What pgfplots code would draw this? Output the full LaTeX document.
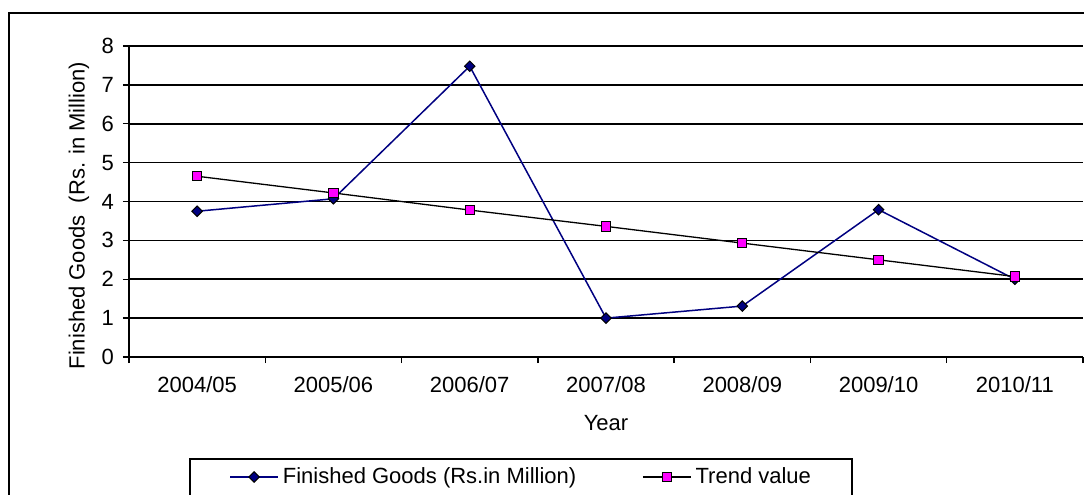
\documentclass[border=0pt]{standalone}
\usepackage{fontspec}
\setmainfont{Liberation Sans}
\usepackage{pgfplots}
\pgfplotsset{compat=1.18}
\definecolor{fgnavy}{RGB}{0,0,128}
\definecolor{trendpink}{RGB}{255,0,255}

\begin{document}
\begin{tikzpicture}[font=\fontsize{11}{13}\selectfont]
\clip (0,0) rectangle (542pt,247pt);
\useasboundingbox (0,0) rectangle (542pt,247pt);
\begin{axis}[
    at={(64.5pt,68.5pt)}, anchor=south west,
    scale only axis, width=477pt, height=155.5pt,
    xmin=-0.5, xmax=6.5, ymin=0, ymax=8,
    axis x line*=bottom, axis y line*=left,
    axis line style={black, line width=0.7pt},
    xtick={0,...,6},
    xticklabels={2004/05,2005/06,2006/07,2007/08,2008/09,2009/10,2010/11},
    xticklabel style={yshift=-3pt},
    yticklabel style={xshift=-1pt},
    minor xtick={-0.5,0.5,...,6.5},
    ytick={0,...,8},
    tick align=outside,
    major tick length=3pt, minor tick length=3pt,
    major x tick style={draw=none},
    minor x tick style={black, line width=0.7pt},
    ytick style={black, line width=0.7pt},
    ymajorgrids, major grid style={black, line width=0.8pt},
    /pgf/number format/assume math mode=true,
    xlabel={Year},
    ylabel={Finished Goods~~(Rs. in Million)},
    xlabel style={at={(axis description cs:0.5,-0.212)}, anchor=center},
    ylabel style={at={(axis description cs:-0.0524,0.455)}, anchor=center},
    legend columns=2,
    legend style={draw=none, fill=none, inner sep=0pt,
      at={(axis description cs:0.1048,-0.3859)}, anchor=west,
      nodes={inner sep=2pt},
      /tikz/every even column/.append style={column sep=31pt}},
    legend image code/.code={
      \draw[#1, mark=none] (0pt,0pt) -- (24pt,0pt);
      \draw[#1] plot coordinates {(12pt,0pt)};
    },
]
\addplot[fgnavy, line width=0.75pt, mark=square*, mark size=1.85pt,
  mark options={rotate=45, fill=fgnavy, draw=black, line width=0.5pt}]
  coordinates {(0,3.75) (1,4.07) (2,7.48) (3,1.00) (4,1.31) (5,3.79) (6,2.00)};
\addlegendentry{Finished Goods (Rs.in Million)}
\addplot[black, line width=0.65pt, mark=square*, mark size=2.35pt,
  mark options={fill=trendpink, draw=black, line width=0.5pt}]
  coordinates {(0,4.65) (1,4.22) (2,3.78) (3,3.36) (4,2.93) (5,2.50) (6,2.07)};
\addlegendentry{Trend value}
\end{axis}
\draw[line width=0.75pt] (4.5pt,-2pt) -- (4.5pt,240.5pt) -- (545pt,240.5pt);
\draw[line width=0.6pt] (95pt,-2pt) -- (95pt,17.5pt) -- (426pt,17.5pt) -- (426pt,-2pt);
\end{tikzpicture}
\end{document}
